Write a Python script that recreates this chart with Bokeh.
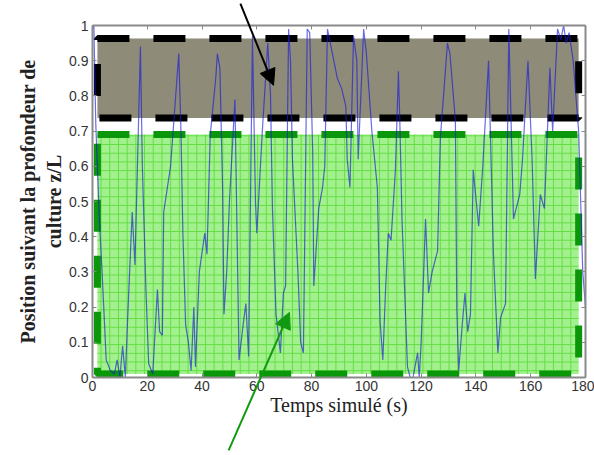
from bokeh.plotting import figure
from bokeh.models import Range1d, LinearAxis, FixedTicker, Arrow, NormalHead
from bokeh.embed import file_html
from bokeh.resources import INLINE

# Trajectory
t = [0, 0.5, 1.2, 2.5, 3.5, 5, 6.5, 8, 9, 10, 11, 12, 13, 14.5, 15.5, 17.5, 18.2, 19.5, 20.5, 22,
     23.7, 24.5, 25.5, 26, 28.5, 31.5, 32.3, 33, 34, 35, 36, 37, 37.6, 39, 41, 41.8, 43, 45, 45.6, 46.5,
     47.5, 48, 49, 50, 52, 53.5, 55, 56, 57, 58.4, 59.5, 60, 62, 64, 65, 65.7, 67, 68.6, 69.7, 70.5,
     71.6, 72.3, 73, 75, 76, 77, 78.4, 79.3, 80.4, 80.8, 82.6, 84, 84.8, 85.8, 87.6, 89.4, 91, 92.5, 93, 94,
     95.3, 96.5, 97, 99, 100, 102, 104, 105, 106, 107, 108, 109, 110.6, 111.7, 112.2, 113, 115, 116, 117, 118.7,
     119.3, 120, 121.6, 122.7, 124, 126, 127, 129.6, 130.5, 132.5, 133, 133.7, 135, 136, 137, 138, 139, 141,
     142.5, 144.6, 146.4, 148, 149, 150.8, 152, 153.7, 156, 157, 159, 160.5, 161.7, 163.5, 165, 167, 168, 169.8,
     171, 172, 173, 174, 175.5, 177.5, 179, 180]
z = [0.99, 1.0, 0.72, 0.45, 0.3, 0.05, 0.02, 0.01, 0.05, 0.0, 0.09, 0.0, 0.2, 0.47, 0.32, 0.94, 0.6, 0.25, 0.04, 0.01,
     0.25, 0.13, 0.12, 0.47, 0.6, 0.92, 0.7, 0.41, 0.15, 0.1, 0.02, 0.2, 0.03, 0.3, 0.41, 0.35, 0.69, 0.85, 0.92, 0.88,
     0.54, 0.18, 0.3, 0.5, 0.79, 0.05, 0.15, 0.21, 0.06, 0.97, 0.5, 0.41, 0.7, 0.95, 0.8, 0.48, 0.18, 0.07, 0.24, 0.26,
     0.99, 0.9, 0.62, 0.3, 0.1, 0.07, 0.99, 0.98, 0.64, 0.26, 0.48, 0.54, 0.6, 0.99, 0.92, 0.85, 0.82, 0.77, 0.62, 0.54,
     0.97, 0.9, 0.62, 0.99, 0.92, 0.7, 0.54, 0.16, 0.05, 0.25, 0.41, 0.39, 0.59, 0.87, 0.73, 0.45, 0.03, 0.0, 0.0, 0.07,
     0.0, 0.1, 0.45, 0.24, 0.3, 0.36, 0.68, 0.95, 0.92, 0.73, 0.2, 0.02, 0.15, 0.24, 0.13, 0.18, 0.59, 0.43,
     0.6, 0.9, 0.35, 0.07, 0.17, 0.21, 0.99, 0.45, 0.52, 0.62, 0.9, 0.62, 0.28, 0.52, 0.48, 0.88, 0.7, 0.99,
     0.96, 1.0, 0.95, 0.98, 0.9, 0.7, 0.3, 0.2]

# Zones (gray = upper zone, green = lower zone)
zone_left = [1.8, 1.8]
zone_right = [177.5, 177.5]
zone_bottom = [0.737, 0.01]
zone_top = [0.963, 0.69]

# annotation arrows (start -> end, data units)
black_arrow = (54.0, 1.062, 66.1, 0.83)
green_arrow = (49.7, -0.207, 71.9, 0.185)

x_lim = (0, 180)
y_lim = (0, 1)
x_ticks = [0, 20, 40, 60, 80, 100, 120, 140, 160, 180]
y_ticks = [0, 0.1, 0.2, 0.3, 0.4, 0.5, 0.6, 0.7, 0.8, 0.9, 1]

# layout: canvas size and where the axes box sits on it (pixels)
W, H = 594, 455
BOX_L, BOX_R, BOX_T, BOX_B = 92, 585, 25, 377
sx = (x_lim[1] - x_lim[0]) / (BOX_R - BOX_L)
sy = (y_lim[1] - y_lim[0]) / (BOX_B - BOX_T)
xr = Range1d(x_lim[0] - BOX_L * sx, x_lim[1] + (W - BOX_R) * sx)
yr = Range1d(y_lim[0] - (H - BOX_B) * sy, y_lim[1] + BOX_T * sy)

p = figure(width=W, height=H, output_backend="svg", toolbar_location=None,
           x_range=xr, y_range=yr, min_border=0,
           background_fill_color="white", border_fill_color="white")
p.grid.visible = False
p.outline_line_color = None

# zones
p.quad(left=[zone_left[0]], right=[zone_right[0]], bottom=[zone_bottom[0]], top=[zone_top[0]],
       fill_color="#8e8c78", fill_alpha=1.0, line_color="black", line_width=7, line_dash="32 24")
p.quad(left=[zone_left[1]], right=[zone_right[1]], bottom=[zone_bottom[1]], top=[zone_top[1]],
       fill_color="#a2f08e", fill_alpha=1.0, hatch_pattern="+", hatch_scale=8.7,
       hatch_color="#64de44", hatch_weight=1, hatch_alpha=1.0,
       line_color="#0a980a", line_width=7, line_dash="32 24")

# trajectory
p.line(t, z, line_color="#1a1ad8", line_width=1.2, line_alpha=0.65)

# arrows
p.add_layout(Arrow(end=NormalHead(size=16, fill_color="black", line_color="black"),
                   x_start=black_arrow[0], y_start=black_arrow[1],
                   x_end=black_arrow[2], y_end=black_arrow[3],
                   line_color="black", line_width=2))
p.add_layout(Arrow(end=NormalHead(size=16, fill_color="#119a11", line_color="#119a11"),
                   x_start=green_arrow[0], y_start=green_arrow[1],
                   x_end=green_arrow[2], y_end=green_arrow[3],
                   line_color="#119a11", line_width=2))

xa = p.xaxis[0]
ya = p.yaxis[0]
xa.fixed_location = y_lim[0]
ya.fixed_location = x_lim[0]
xa.bounds = x_lim
ya.bounds = y_lim
for ax in (xa, ya):
    ax.axis_line_color = "#8a8a8a"
    ax.axis_line_width = 2
    ax.major_tick_in = 4
    ax.major_tick_out = 0
    ax.minor_tick_line_color = None
    ax.major_tick_line_color = "#8a8a8a"
    ax.major_label_text_font = "Liberation Sans"
    ax.major_label_text_font_size = "14px"
    ax.major_label_text_color = "#333333"
    ax.axis_label_text_font = "Liberation Serif"
    ax.axis_label_text_color = "#222222"

xa.ticker = FixedTicker(ticks=x_ticks)
ya.ticker = FixedTicker(ticks=y_ticks)
ya.major_label_overrides = {0: "0", 1: "1"}
xa.axis_label = "Temps simulé (s)"
xa.axis_label_text_font_size = "20px"
xa.axis_label_text_font_style = "normal"
xa.axis_label_standoff = 0
xa.major_label_standoff = 3
ya.axis_label = "Position suivant la profondeur de\nculture z/L"
ya.axis_label_text_font_size = "20px"
ya.axis_label_text_font_style = "bold"
ya.axis_label_standoff = 1
ya.major_label_standoff = 4

# box: top and right axes with inward ticks, no labels
top_axis = LinearAxis(ticker=FixedTicker(ticks=x_ticks), fixed_location=y_lim[1], bounds=x_lim,
                      major_label_overrides={v: "" for v in x_ticks})
right_axis = LinearAxis(ticker=FixedTicker(ticks=y_ticks), fixed_location=x_lim[1], bounds=y_lim,
                        major_label_overrides={v: "" for v in y_ticks})
for a in (top_axis, right_axis):
    a.axis_line_color = "#8a8a8a"
    a.axis_line_width = 2
    a.major_tick_in = 4
    a.major_tick_out = 0
    a.major_tick_line_color = "#8a8a8a"
    a.minor_tick_line_color = None
p.add_layout(top_axis, "above")
p.add_layout(right_axis, "right")

open("out.html", "w").write(file_html(p, INLINE))
